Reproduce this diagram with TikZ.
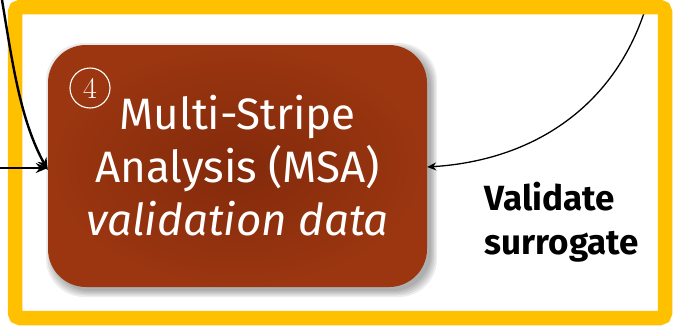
\documentclass[tikz,border=0pt]{standalone}
\usepackage{fontspec}
\setmainfont{Fira Sans}
\newfontfamily\lmserif{Latin Modern Roman}
\usetikzlibrary{arrows.meta}
\definecolor{frameyellow}{HTML}{FFC000}
\definecolor{boxdark}{HTML}{832A0B}
\definecolor{boxlight}{HTML}{9B3610}
\tikzset{
  msabox/.style={rounded corners=38pt, inner color=boxdark, outer color=boxlight,
    text=white, align=center, minimum width=379pt, minimum height=242pt, inner sep=0pt,
    font=\fontsize{44}{53}\selectfont},
  softshadow/.style={fill=black, opacity=0.07, rounded corners=38pt},
  stepnum/.style={circle, draw=white, line width=1.1pt, text=white, minimum size=40pt, inner sep=0pt},
  thickarrow/.style={-{Stealth[length=12pt,width=10pt]}, line width=2.4pt, black},
  thinarrow/.style={-{Stealth[length=9pt,width=8pt]}, line width=1.3pt, black},
  labeltext/.style={align=left, font=\bfseries\fontsize{35}{44}\selectfont}
}
\begin{document}
\begin{tikzpicture}[x=1pt,y=-1pt]
\useasboundingbox (0,0) rectangle (673,327);
\fill[white] (0,0) rectangle (673,327);
% soft shadow layers
\foreach \d in {0,1.5,3,4.5,6} {
  \fill[softshadow] (48+4-\d,45+4-\d) rectangle (427+4+\d,287+4+\d);
}
\node[msabox] (msa) at (237.5,166) {Multi-Stripe\\Analysis (MSA)\\\textit{validation data}};
\node[stepnum] (num) at (90,88) {\lmserif\fontsize{30}{30}\selectfont 4};
\coordinate (topleft) at (2,0);
\coordinate (leftin) at (0,168);
\coordinate (topright) at (648,0);
\node[labeltext] (lbl) at (562,222) {Validate\\surrogate};
\draw[thinarrow] (topright) .. controls (620,100) and (540,160) .. ([yshift=-1pt]msa.east);
\draw[frameyellow, line width=14.5pt, rounded corners=5pt] (15,7) rectangle (665,318);
\draw[thickarrow] (leftin) -- (msa.west |- leftin);
\draw[thickarrow] (topleft) .. controls (12,60) and (20,120) .. ([yshift=-4pt]msa.west);
\end{tikzpicture}
\end{document}
